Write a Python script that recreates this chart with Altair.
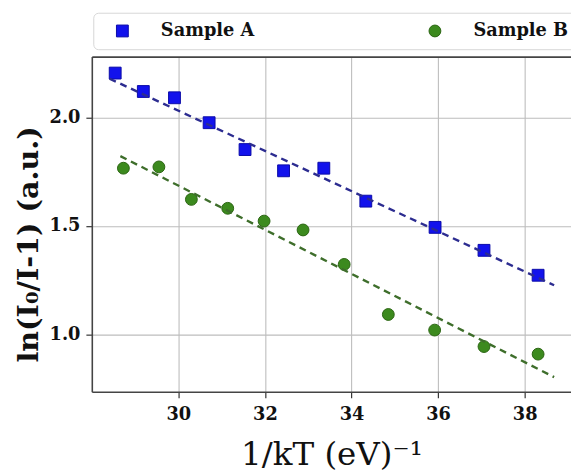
import altair as alt
import pandas as pd

# ---- data ----
series = ["Sample A", "Sample B"]
x_a = [28.54, 29.19, 29.91, 30.71, 31.54, 32.43, 33.36, 34.33, 35.93, 37.06, 38.31]
y_a = [2.206, 2.121, 2.092, 1.977, 1.853, 1.755, 1.767, 1.615, 1.494, 1.388, 1.273]
x_b = [28.73, 29.55, 30.30, 31.14, 31.98, 32.88, 33.83, 34.85, 35.92, 37.06, 38.31]
y_b = [1.767, 1.773, 1.623, 1.582, 1.523, 1.482, 1.323, 1.092, 1.020, 0.944, 0.909]
fit_x_a = [28.41, 38.68]
fit_y_a = [2.180, 1.227]
fit_x_b = [28.66, 38.68]
fit_y_b = [1.823, 0.803]
x_ticks = [30, 32, 34, 36, 38]
y_ticks = [1.0, 1.5, 2.0]
x_domain = [28.0, 39.07]
y_domain = [0.735, 2.282]

pts = pd.DataFrame({
    "x": x_a + x_b,
    "y": y_a + y_b,
    "series": [series[0]] * len(x_a) + [series[1]] * len(x_b),
})
fit_a = pd.DataFrame({"x": fit_x_a, "y": fit_y_a})
fit_b = pd.DataFrame({"x": fit_x_b, "y": fit_y_b})

W, H = 486, 340
FONT = "DejaVu Serif"
xs = alt.Scale(domain=x_domain, nice=False, zero=False)
ys = alt.Scale(domain=y_domain, nice=False, zero=False)

x_axis = alt.Axis(
    values=x_ticks, format="d", title="1/kT (eV)⁻¹", grid=True,
    titleFont=FONT, titleFontSize=33, titleFontWeight="normal", titleColor="#111",
    titleX=W / 2, titleY=64, titleBaseline="middle", titleAlign="center",
    labelFont=FONT, labelFontSize=18, labelFontWeight="bold", labelColor="#111",
    labelPadding=8, tickSize=6, tickColor="#333", tickWidth=1.2,
    domainColor="#444", domainWidth=1.6, gridColor="#bdbdbd", gridWidth=1.1,
)
y_axis = alt.Axis(
    values=y_ticks, format=".1f", title="ln(I₀/I-1) (a.u.)", grid=True,
    titleFont=FONT, titleFontSize=29, titleFontWeight="bold", titleColor="#111",
    titleX=-64, titleY=190, titleAngle=-90, titleBaseline="middle", titleAlign="center",
    labelFont=FONT, labelFontSize=18, labelFontWeight="bold", labelColor="#111",
    labelPadding=6, tickSize=6, tickColor="#333", tickWidth=1.2,
    domainColor="#444", domainWidth=1.6, gridColor="#bdbdbd", gridWidth=1.1,
)
top_axis = alt.Axis(orient="top", labels=False, ticks=False, title=None, grid=False,
                    domain=True, domainColor="#444", domainWidth=1.6)

legend_box = alt.Chart(pd.DataFrame({"k": [0]})).mark_rect(
    cornerRadius=5, fill="white", stroke="#d6d6d6", strokeWidth=1
).encode(x=alt.value(2), x2=alt.value(540), y=alt.value(-44), y2=alt.value(-7))

points = alt.Chart(pts).mark_point(filled=True, opacity=1, strokeWidth=1, size=144).encode(
    x=alt.X("x:Q", scale=xs, axis=x_axis),
    y=alt.Y("y:Q", scale=ys, axis=y_axis),
    color=alt.Color("series:N", scale=alt.Scale(domain=series, range=["#1212ec", "#3c8a1e"]),
                    legend=alt.Legend(title=None)),
    shape=alt.Shape("series:N", scale=alt.Scale(domain=series, range=["square", "circle"]),
                    legend=alt.Legend(title=None)),
    stroke=alt.Stroke("series:N", scale=alt.Scale(domain=series, range=["#0a0aa8", "#2b6512"]),
                      legend=None),
)

line_a = alt.Chart(fit_a).mark_line(color="#2c2c90", strokeWidth=2.4, strokeDash=[7, 5]).encode(
    x=alt.X("x:Q", scale=xs, axis=top_axis), y=alt.Y("y:Q", scale=ys))
line_b = alt.Chart(fit_b).mark_line(color="#3e6e2b", strokeWidth=2.4, strokeDash=[7, 5]).encode(
    x=alt.X("x:Q", scale=xs, axis=None), y=alt.Y("y:Q", scale=ys))

chart = alt.layer(legend_box, points, line_a, line_b).resolve_axis(x="independent").properties(
    width=W, height=H,
    padding={"left": 85, "top": 46, "right": 0, "bottom": 78},
    autosize=alt.AutoSizeParams(type="none"),
    background="white",
).configure_view(stroke=None).configure_legend(
    orient="none", legendX=22, legendY=-35, direction="horizontal",
    labelFont=FONT, labelFontSize=18, labelFontWeight="bold", labelColor="#111",
    symbolSize=144, labelOffset=30, columnPadding=174, padding=0,
    symbolStrokeWidth=1, symbolOpacity=1,
)

chart.save("out.html", embed_options={"renderer": "svg", "actions": False})
